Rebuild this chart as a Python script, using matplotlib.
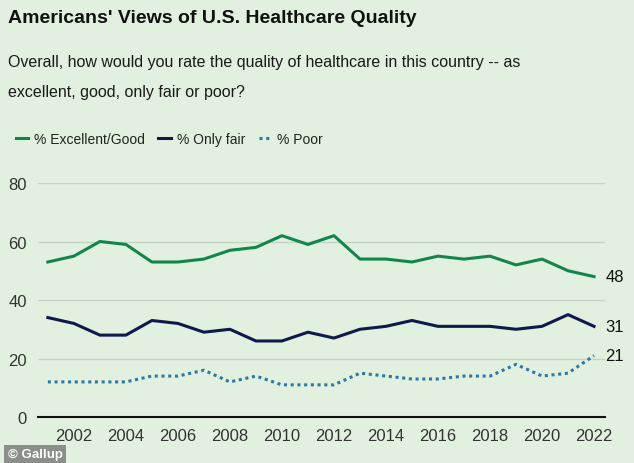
import matplotlib
matplotlib.use("Agg")
import matplotlib.pyplot as plt

# Gallup: "Overall, how would you rate the quality of healthcare in this country?"
years = list(range(2001, 2023))
excellent_good = [53, 55, 60, 59, 53, 53, 54, 57, 58, 62, 59, 62,
                  54, 54, 53, 55, 54, 55, 52, 54, 50, 48]
only_fair = [34, 32, 28, 28, 33, 32, 29, 30, 26, 26, 29, 27,
             30, 31, 33, 31, 31, 31, 30, 31, 35, 31]
poor = [12, 12, 12, 12, 14, 14, 16, 12, 14, 11, 11, 11,
        15, 14, 13, 13, 14, 14, 18, 14, 15, 21]
y_ticks = [0, 20, 40, 60, 80]
x_ticks = list(range(2002, 2023, 2))

bg = "#e2f0df"
green = "#12864a"
navy = "#0d1a4b"
teal = "#2b79a6"

plt.rcParams["font.family"] = ["Liberation Sans", "DejaVu Sans"]

fig = plt.figure(figsize=(6.34, 4.64), dpi=100, facecolor=bg)
ax = fig.add_axes([0.0599, 0.0991, 0.8943, 0.5043], facecolor=bg)

ax.plot(years, excellent_good, color=green, lw=2.2, label="% Excellent/Good", clip_on=False)
ax.plot(years, only_fair, color=navy, lw=2.2, label="% Only fair", clip_on=False)
ax.plot(years, poor, color=teal, lw=2.2, ls=(0, (1, 1.2)), label="% Poor", clip_on=False)

# value labels at the line ends
for series in [excellent_good, only_fair, poor]:
    ax.annotate(str(series[-1]), xy=(years[-1], series[-1]), xytext=(8, 0),
                textcoords="offset points", va="center", ha="left",
                fontsize=12, color="#111111")

ax.set_xlim(2000.62, 2022.42)
ax.set_ylim(0, 80)
ax.set_yticks(y_ticks)
ax.set_xticks(x_ticks)
ax.grid(axis="y", color="#c4d4c2", lw=1)
ax.set_axisbelow(True)
for s in ["top", "right", "left"]:
    ax.spines[s].set_visible(False)
ax.spines["bottom"].set_color("#111111")
ax.spines["bottom"].set_linewidth(1.5)
ax.tick_params(axis="both", length=0, labelsize=12, labelcolor="#333333")
ax.tick_params(axis="y", pad=8)
ax.tick_params(axis="x", pad=8)

fig.text(0.013, 0.96, "Americans' Views of U.S. Healthcare Quality",
         fontsize=14, fontweight="bold", va="center", ha="left", color="#111111")
fig.text(0.013, 0.866, "Overall, how would you rate the quality of healthcare in this country -- as",
         fontsize=11.5, va="center", ha="left", color="#1a1a1a")
fig.text(0.013, 0.801, "excellent, good, only fair or poor?",
         fontsize=11.5, va="center", ha="left", color="#1a1a1a")

fig.legend(loc="center left", bbox_to_anchor=(0.005, 0.698), ncol=3, frameon=False,
           fontsize=10, handlelength=0.9, handletextpad=0.4, columnspacing=1.0,
           labelcolor="#222222")

fig.text(0.012, 0.0185, "© Gallup", fontsize=9.5, fontweight="bold", color="white",
         va="center", ha="left",
         bbox=dict(boxstyle="square,pad=0.25", fc="#8a8f8a", ec="none"))

fig.savefig("out.png", dpi=100, facecolor=bg)
